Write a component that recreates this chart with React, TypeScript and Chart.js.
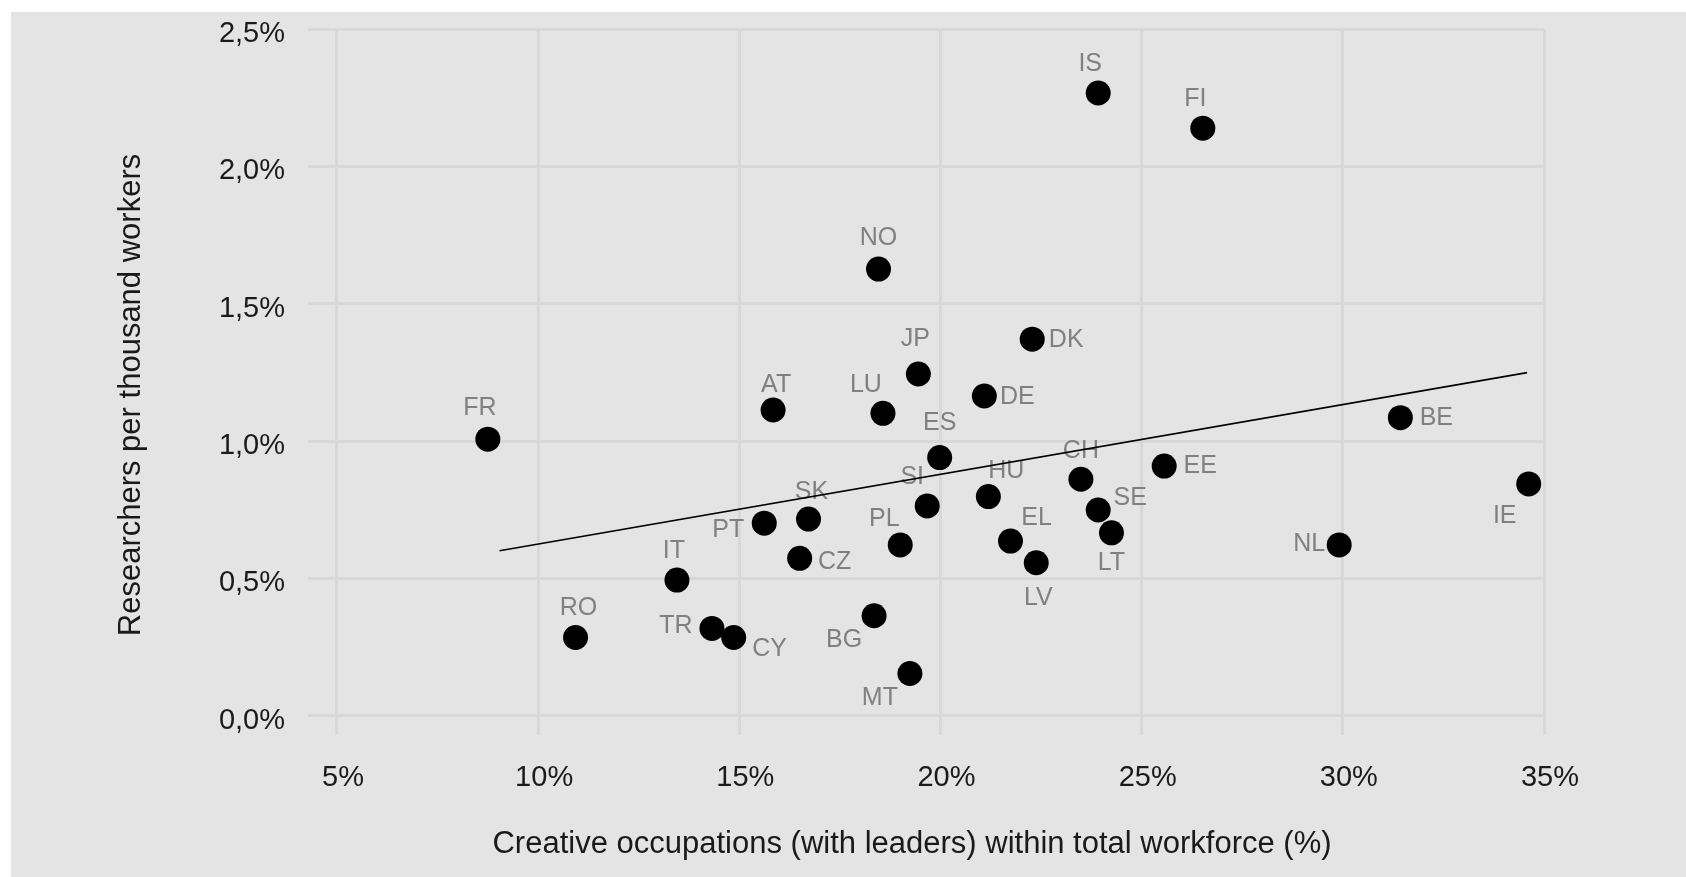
import React, { useEffect, useRef } from 'react';
import { Chart, registerables } from 'chart.js';

Chart.register(...registerables);

// ---- data ----
const COUNTRIES = ['IS', 'FI', 'NO', 'JP', 'DK', 'AT', 'LU', 'DE', 'ES', 'FR', 'BE', 'CH', 'SI', 'HU', 'SE', 'LT', 'EL', 'LV', 'PL', 'PT', 'SK', 'CZ', 'IT', 'RO', 'TR', 'CY', 'BG', 'MT', 'EE', 'NL', 'IE'];
const CREATIVE_SHARE = [23.92, 26.52, 18.46, 19.45, 22.28, 15.84, 18.57, 21.09, 19.98, 8.75, 31.43, 23.49, 19.67, 21.19, 23.92, 24.25, 21.74, 22.38, 19.0, 15.62, 16.72, 16.5, 13.45, 10.93, 14.32, 14.86, 18.35, 19.24, 25.56, 29.91, 34.62];
const RESEARCHERS = [2.267, 2.139, 1.626, 1.244, 1.371, 1.113, 1.101, 1.164, 0.94, 1.007, 1.085, 0.861, 0.764, 0.798, 0.749, 0.666, 0.636, 0.557, 0.622, 0.701, 0.716, 0.573, 0.494, 0.285, 0.318, 0.285, 0.364, 0.154, 0.909, 0.622, 0.844];
const TREND_X = [9.04, 34.58];
const TREND_Y = [0.601, 1.249];
const X_TICKS = [5, 10, 15, 20, 25, 30, 35];
const Y_TICKS = [0, 0.5, 1, 1.5, 2, 2.5];
const X_TITLE = 'Creative occupations (with leaders) within total workforce (%)';
const Y_TITLE = 'Researchers per thousand workers';

// ---- label placement (pixel offsets from each dot, layout only) ----
const LABEL_OFFSETS: [number, number][] = [
  [-8, -29], [-7.5, -29], [0, -31], [-3, -35], [34, 1], [3, -25], [-17, -28], [33, 1], [0, -34], [-8, -31],
  [36, 0], [0, -28], [-15, -29], [18, -25], [32, -12], [0, 30], [26, -23], [2, 35], [-16, -26], [-36, 7],
  [3, -27], [35, 4], [-3, -29], [3, -29], [-36, -2], [36, 12], [-30, 24], [-30, 25], [36, 0], [-30, -1], [-24, 32],
];

const W = 1686;
const H = 877;
const FONT = "'Liberation Sans', Arial, Helvetica, sans-serif";

export default function App() {
  const ref = useRef<HTMLCanvasElement | null>(null);

  useEffect(() => {
    if (!ref.current) return;

    const background = {
      id: 'bg',
      beforeDraw(chart: any) {
        const ctx = chart.ctx;
        ctx.save();
        ctx.fillStyle = '#ffffff';
        ctx.fillRect(0, 0, chart.width, chart.height);
        ctx.fillStyle = '#e4e4e4';
        ctx.fillRect(11, 12, chart.width - 11, chart.height - 12);
        ctx.restore();
      },
    };

    const pointLabels = {
      id: 'pointLabels',
      beforeDatasetsDraw(chart: any) {
        const ctx = chart.ctx;
        const meta = chart.getDatasetMeta(0);
        ctx.save();
        ctx.font = `25px ${FONT}`;
        ctx.fillStyle = '#808080';
        ctx.textAlign = 'center';
        ctx.textBaseline = 'middle';
        meta.data.forEach((el: any, i: number) => {
          const [dx, dy] = LABEL_OFFSETS[i] || [0, -28];
          ctx.fillText(COUNTRIES[i], el.x + dx, el.y + dy);
        });
        ctx.restore();
      },
    };

    const axisTitles = {
      id: 'axisTitles',
      afterDraw(chart: any) {
        const ctx = chart.ctx;
        ctx.save();
        ctx.font = `31px ${FONT}`;
        ctx.fillStyle = '#1a1a1a';
        ctx.textAlign = 'center';
        ctx.textBaseline = 'alphabetic';
        ctx.fillText(X_TITLE, 912, 853);
        ctx.translate(140, 395);
        ctx.rotate(-Math.PI / 2);
        ctx.fillText(Y_TITLE, 0, 0);
        ctx.restore();
      },
    };

    const chart = new Chart(ref.current, {
      type: 'scatter',
      data: {
        datasets: [
          {
            data: CREATIVE_SHARE.map((x, i) => ({ x, y: RESEARCHERS[i] })),
            backgroundColor: '#000000',
            borderColor: '#000000',
            pointRadius: 12.5,
            pointHoverRadius: 12.5,
            borderWidth: 0,
          },
          {
            data: TREND_X.map((x, i) => ({ x, y: TREND_Y[i] })),
            showLine: true,
            borderColor: '#000000',
            borderWidth: 1.6,
            pointRadius: 0,
            fill: false,
          },
        ],
      },
      options: {
        animation: false,
        responsive: false,
        devicePixelRatio: 1,
        layout: { padding: { left: 0, top: 29, right: 142, bottom: 0 } },
        plugins: { legend: { display: false }, tooltip: { enabled: false } },
        scales: {
          x: {
            type: 'linear',
            min: 4.28,
            max: 35,
            afterBuildTicks: (s: any) => {
              s.ticks = X_TICKS.map((v) => ({ value: v }));
            },
            afterFit: (s: any) => {
              s.height = 142;
              s.paddingLeft = 0;
              s.paddingRight = 0;
            },
            grid: { color: '#d8d8d8', lineWidth: 3, drawTicks: false },
            border: { display: false },
            ticks: {
              padding: 26,
              labelOffset: 6,
              maxRotation: 0,
              autoSkip: false,
              color: '#1a1a1a',
              font: { family: FONT, size: 29 },
              callback: (v: any) => `${v}%`,
            },
          },
          y: {
            type: 'linear',
            min: -0.07,
            max: 2.5,
            afterBuildTicks: (s: any) => {
              s.ticks = Y_TICKS.map((v) => ({ value: v }));
            },
            afterFit: (s: any) => {
              s.width = 308;
              s.paddingTop = 0;
              s.paddingBottom = 0;
            },
            grid: { color: '#d8d8d8', lineWidth: 3, drawTicks: false },
            border: { display: false },
            ticks: {
              padding: 23,
              labelOffset: 5,
              autoSkip: false,
              color: '#1a1a1a',
              font: { family: FONT, size: 29 },
              callback: (v: any) => `${Number(v).toFixed(1).replace('.', ',')}%`,
            },
          },
        },
      },
      plugins: [background, pointLabels, axisTitles],
    } as any);

    return () => chart.destroy();
  }, []);

  return (
    <div style={{ position: 'fixed', left: 0, top: 0, width: W, height: H }}>
      <canvas ref={ref} width={W} height={H} style={{ display: 'block', width: W, height: H }} />
    </div>
  );
}
